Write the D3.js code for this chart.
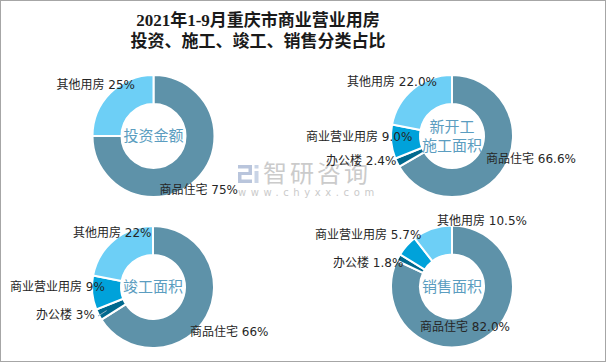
<!DOCTYPE html>
<html>
<head>
<meta charset="utf-8">
<script src="https://cdn.jsdelivr.net/npm/d3@7"></script>
<style>
  body { margin: 0; background: #fff; }
  svg { display: block; }
</style>
</head>
<body>
<svg width="606" height="363"></svg>
<script>
// data
const categories = ['商品住宅', '办公楼', '商业营业用房', '其他用房'];
const investShare = [75, null, null, 25];
const newStartShare = [66.6, 2.4, 9.0, 22.0];
const completedShare = [66, 3, 9, 22];
const salesShare = [82.0, 1.8, 5.7, 10.5];
const donutNames = [['投资金额'], ['新开工', '施工面积'], ['竣工面积'], ['销售面积']];
const decimals = [0, 1, 0, 1];

const colors = d3.scaleOrdinal()
  .domain(categories)
  .range(['#5e92a9', '#00698e', '#00a2da', '#6dcff6']);

// layout: donut centres and per label offsets (left x, middle y) from the centre
const centers = [[153.5, 136], [452, 136], [153, 287], [452, 286.5]];
const labelOffsets = [
  [[6, 54], null, null, [-97, -51]],
  [[34, 23], [-126, 25], [-146, 1], [-105, -54]],
  [[37, 45], [-117, 28], [-143, 0], [-80, -54]],
  [[-32, 40], [-119, -24], [-137, -52], [-15, -66]]
];
const outerR = 61, innerR = 32;

const svg = d3.select('svg');

// frame
svg.append('rect')
  .attr('x', 0.5).attr('y', 0.5)
  .attr('width', 605).attr('height', 361)
  .style('fill', 'none')
  .style('stroke', '#a6a6a6')
  .style('stroke-width', '1px');

// watermark, behind everything
let wm = svg.append('g').attr('transform', 'translate(238, 165)');
wm.append('path')
  .attr('d', 'M0,0 H14 V10 H3.5 V14.5 H14 V18 H0 V7 H10.5 V3.5 H0 Z')
  .style('fill', '#b9c5dc');
wm.append('path')
  .attr('d', 'M16.5,6 H20.5 V18 H16.5 Z M16.5,0 H20.5 V3.5 H16.5 Z')
  .style('fill', '#c9d4e6');
wm.append('text')
  .text('智研咨询')
  .attr('x', 25).attr('y', 17)
  .style('font-family', 'Noto Sans CJK SC')
  .style('font-size', '24px')
  .style('letter-spacing', '3px')
  .style('fill', '#cbcbcb');
wm.append('text')
  .text('www.chyxx.com')
  .attr('x', 0).attr('y', 31)
  .style('font-family', 'DejaVu Sans')
  .style('font-size', '10px')
  .style('letter-spacing', '4.6px')
  .style('fill', '#cbcbcb');

// title
const title = svg.append('text')
  .attr('x', 258)
  .style('text-anchor', 'middle')
  .style('font-family', 'Liberation Serif, Noto Sans CJK SC')
  .style('font-weight', 'bold')
  .style('font-size', '17px')
  .style('fill', '#1a1a1a');
title.append('tspan').attr('x', 258).attr('y', 26).text('2021年1-9月重庆市商业营业用房');
title.append('tspan').attr('x', 258).attr('y', 47).text('投资、施工、竣工、销售分类占比');

const pie = d3.pie().sort(null).value(d => d.v);
const arc = d3.arc().innerRadius(innerR).outerRadius(outerR);
const leaderArc = d3.arc().innerRadius(outerR - 9).outerRadius(outerR - 9);

[investShare, newStartShare, completedShare, salesShare].forEach((vals, k) => {
  const rows = categories.map((c, i) => ({ c: c, v: vals[i], i: i }))
                         .filter(d => d.v != null);
  const g = svg.append('g')
    .attr('transform', `translate(${centers[k][0]}, ${centers[k][1]})`);

  g.selectAll('path.slice')
    .data(pie(rows))
    .enter()
    .append('path')
    .classed('slice', true)
    .attr('d', arc)
    .style('fill', d => colors(d.data.c))
    .style('stroke', '#fff')
    .style('stroke-width', '2px');

  // centre name
  const nm = donutNames[k];
  g.selectAll('text.name')
    .data(nm)
    .enter()
    .append('text')
    .classed('name', true)
    .text(d => d)
    .attr('y', (d, i) => (i - (nm.length - 1) / 2) * 19)
    .attr('dy', '0.35em')
    .style('text-anchor', 'middle')
    .style('font-family', 'Noto Sans CJK SC')
    .style('font-size', '15px')
    .style('fill', '#5b9dc0');

  // leader line for the small office slice in the completed chart
  if (k === 2) {
    const office = pie(rows).find(d => d.data.c === '办公楼');
    const p0 = leaderArc.centroid(office);
    const off = labelOffsets[k][office.data.i];
    g.append('line')
      .attr('x1', p0[0]).attr('y1', p0[1])
      .attr('x2', off[0] + 62).attr('y2', off[1] + 1)
      .style('stroke', '#8fb2c4')
      .style('stroke-width', '1px');
  }

  g.selectAll('text.lab')
    .data(rows)
    .enter()
    .append('text')
    .classed('lab', true)
    .attr('x', d => labelOffsets[k][d.i][0])
    .attr('y', d => labelOffsets[k][d.i][1])
    .attr('dy', '0.35em')
    .style('font-family', 'DejaVu Sans, Noto Sans CJK SC')
    .style('font-size', '12px')
    .style('fill', '#262626')
    .text(d => `${d.c} ${d3.format(`.${decimals[k]}f`)(d.v)}%`);
});
</script>
</body>
</html>
